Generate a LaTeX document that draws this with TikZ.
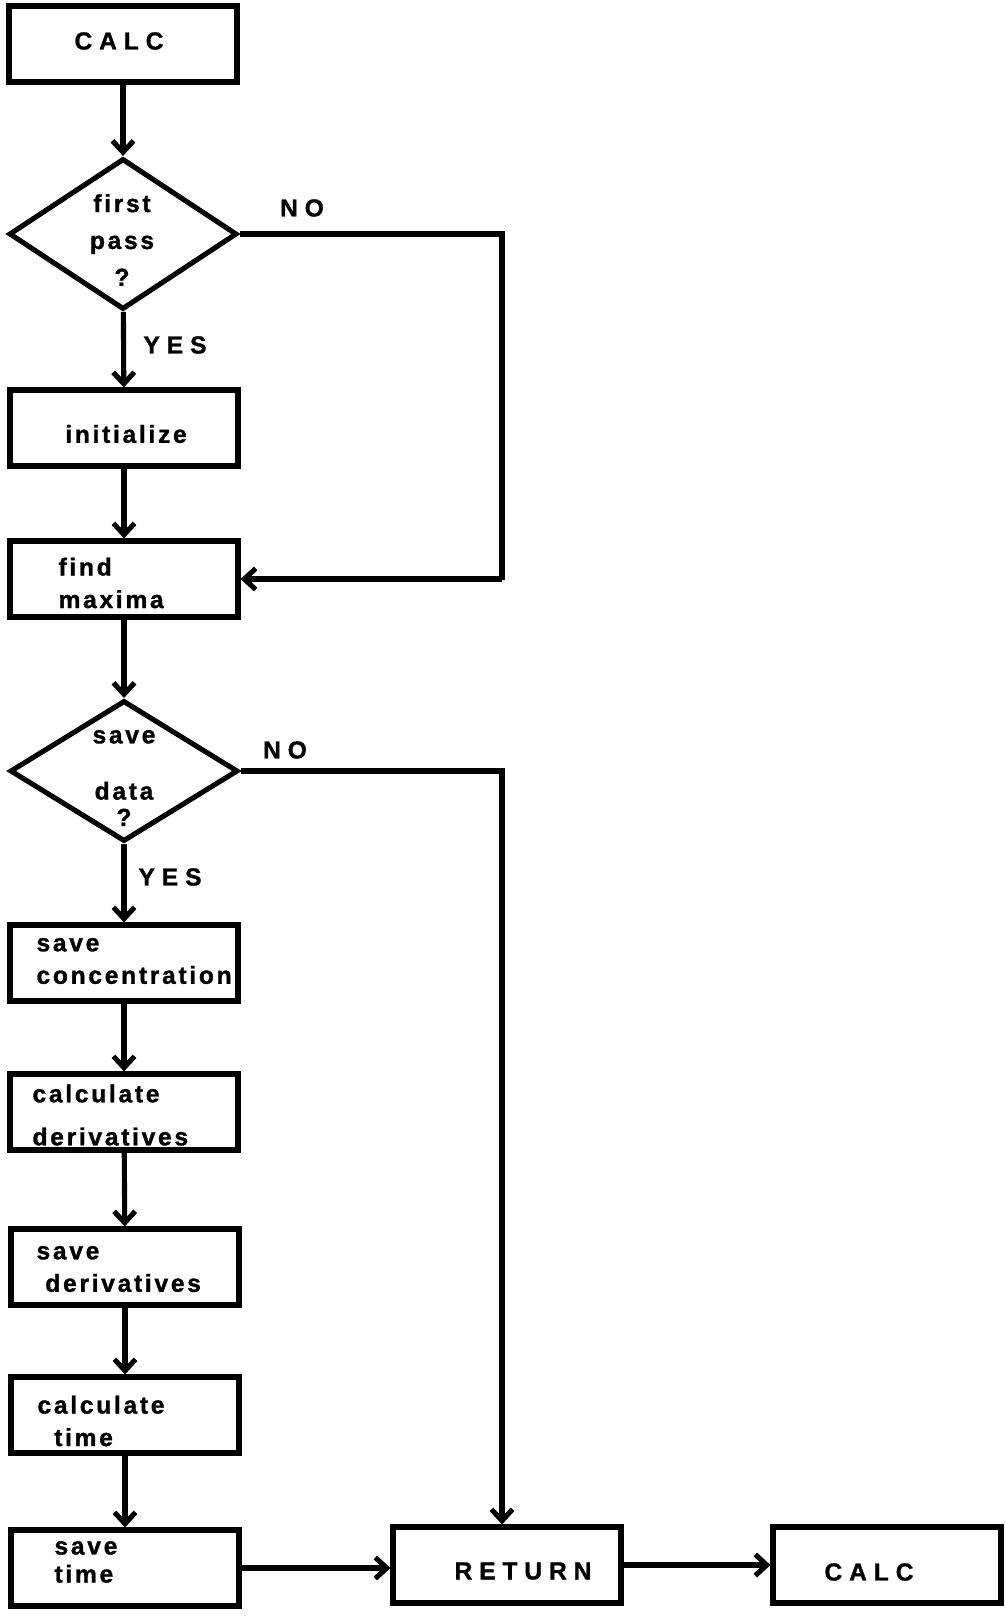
\documentclass[tikz,border=0pt]{standalone}
\usepackage{fontspec}
\newfontfamily\capsfont[LetterSpace=28,BoldFeatures={FakeBold=1.2}]{Liberation Sans}
\newfontfamily\lowfont[LetterSpace=11,BoldFeatures={FakeBold=1.2}]{Liberation Sans}
\usetikzlibrary{arrows.meta,shapes.geometric}

\begin{document}
\begin{tikzpicture}[x=0.02cm,y=-0.02cm,line width=2.9pt,
  >={Straight Barb[length=6.5pt,width=12pt]},
  stepbox/.style={draw,rectangle,minimum width=4.56cm,minimum height=1.52cm,inner sep=0pt},
  testbox/.style={draw,diamond,minimum width=4.56cm,inner sep=0pt},
  lowtext/.style={font=\lowfont\bfseries\fontsize{14}{18.5}\selectfont,inner sep=0pt,align=left},
  captext/.style={font=\capsfont\bfseries\fontsize{14}{18.5}\selectfont,inner sep=0pt}]
  \useasboundingbox (0,0) rectangle (1005,1616);

  % boxes of the left column
  \node[stepbox] (calc1) at (123,44) {};
  \node[testbox,minimum height=3.02cm] (first) at (123,234) {};
  \node[stepbox] (init) at (124,428) {};
  \node[stepbox] (find) at (124,579) {};
  \node[testbox,minimum height=2.82cm] (savedata) at (124,771) {};
  \node[stepbox] (savec) at (124,963) {};
  \node[stepbox] (calcd) at (124,1112) {};
  \node[stepbox] (saved) at (125,1267) {};
  \node[stepbox] (calct) at (125,1415) {};
  \node[stepbox] (savet) at (125,1568) {};
  % bottom row
  \node[stepbox] (ret) at (507,1565) {};
  \node[stepbox] (calc2) at (887,1565) {};
  \coordinate (bypass) at (502,580);

  % texts
  \node[captext] (calc1-t) at (119,41) {CALC};
  \node[lowtext,align=center] (first-t) at (122,240) {first\\[2.5pt]pass\\[2.5pt]?};
  \node[lowtext] (init-t) at (126,434) {initialize};
  \node[lowtext,anchor=west] (find-t) at (56,583) {find\\maxima};
  \node[lowtext,align=center] (savedata-t) at (124,778) {save\\[13.5pt]data\\[-3.5pt]?};
  \node[lowtext,anchor=west] (savec-t) at (34,961) {save\\concentration};
  \node[lowtext,anchor=west] (calcd-t) at (30,1115) {calculate\\[6pt]derivatives};
  \node[lowtext,anchor=west] (saved-t) at (34,1269) {save\\\hspace*{5pt}derivatives};
  \node[lowtext,anchor=west] (calct-t) at (35,1421) {calculate\\\hspace*{9.5pt}time};
  \node[lowtext,anchor=west] (savet-t) at (52,1562) {save\\[-2.5pt]time};
  \node[captext] (ret-t) at (523,1571) {RETURN};
  \node[captext] (calc2-t) at (869,1572) {CALC};
  \node[captext] (yes1) at (175,345) {YES};
  \node[captext] (no1) at (302,208) {NO};
  \node[captext] (yes2) at (170,877) {YES};
  \node[captext] (no2) at (285,750) {NO};

  % flow
  \draw[->] (calc1) -- (first);
  \draw[->] (first) -- (init);
  \draw[->] (first.east) -| (bypass) |- (find.east);
  \draw[->] (init) -- (find);
  \draw[->] (find) -- (savedata);
  \draw[->] (savedata) -- (savec);
  \draw[->] (savedata.east) -| (ret.north -| bypass);
  \draw[->] (savec) -- (calcd);
  \draw[->] (calcd) -- (saved);
  \draw[->] (saved) -- (calct);
  \draw[->] (calct) -- (savet);
  \draw[->] (savet.east) -- (savet.east -| ret.west);
  \draw[->] (ret) -- (calc2);
\end{tikzpicture}
\end{document}
